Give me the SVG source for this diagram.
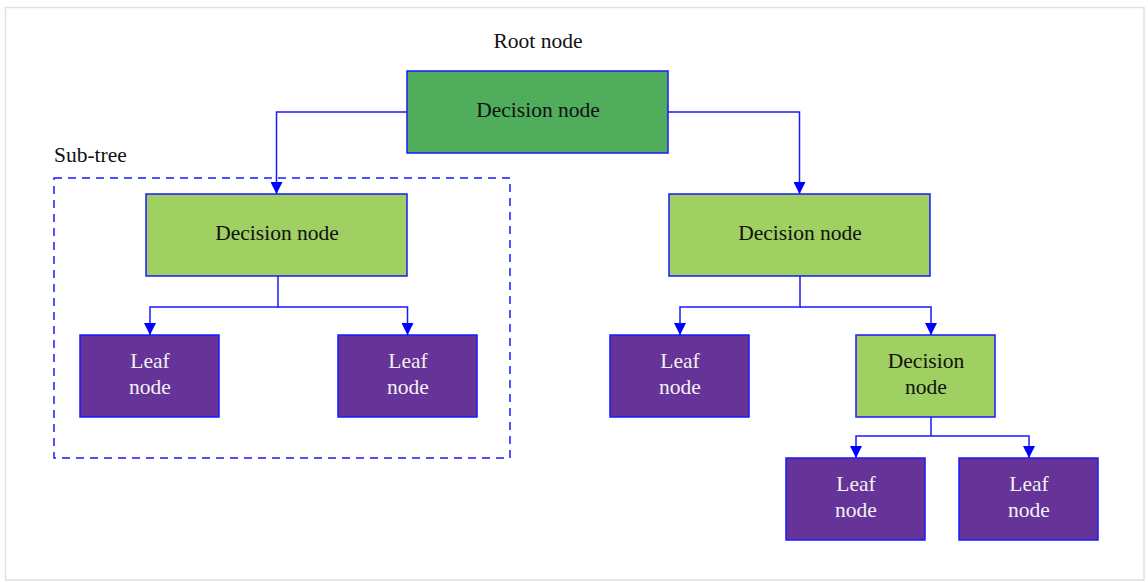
<svg xmlns="http://www.w3.org/2000/svg" width="1148" height="582" viewBox="0 0 1148 582">
<defs>
<marker id="arr" markerWidth="12" markerHeight="12" refX="12" refY="6" orient="auto" markerUnits="userSpaceOnUse">
<path d="M0,0 L12,6 L0,12 Z" fill="#0000ff"/>
</marker>
<style>
.n{stroke:#1a1aff;stroke-width:1.5}
.root{fill:#4fad5b}
.dec{fill:#a0cf62}
.leaf{fill:#663399}
.t{font-family:"Liberation Serif","DejaVu Serif",serif;font-size:21.5px;text-anchor:middle}
.dk{fill:#111}
.wt{fill:#f2f2f2}
.lbl{font-family:"Liberation Serif","DejaVu Serif",serif;font-size:21.5px;fill:#111}
.c{fill:none;stroke:#1a1aff;stroke-width:1.5}
</style>
</defs>
<rect x="0" y="0" width="1148" height="582" fill="#ffffff"/>
<rect x="5.5" y="7.5" width="1138.5" height="572.5" fill="none" stroke="#e0e0e0" stroke-width="1.5"/>
<g id="subtree">
<rect x="54" y="178" width="456" height="280" fill="none" stroke="#1a1aff" stroke-width="1.5" stroke-dasharray="8,6"/>
<text class="lbl" x="54" y="162">Sub-tree</text>
</g>
<text class="lbl" x="538" y="48" text-anchor="middle">Root node</text>
<g id="connectors">
<path class="c" d="M407,112 H276.5 V194" marker-end="url(#arr)"/>
<path class="c" d="M668,112 H799.5 V194" marker-end="url(#arr)"/>
<path class="c" d="M278,276 V307 H150 V335" marker-end="url(#arr)"/>
<path class="c" d="M278,307 H407.5 V335" marker-end="url(#arr)"/>
<path class="c" d="M800,276 V307 H680 V335" marker-end="url(#arr)"/>
<path class="c" d="M800,307 H931 V335" marker-end="url(#arr)"/>
<path class="c" d="M931,417 V436 H856 V458" marker-end="url(#arr)"/>
<path class="c" d="M931,436 H1029 V458" marker-end="url(#arr)"/>
</g>
<g id="root">
<rect class="n root" x="407" y="71" width="261" height="82"/>
<text class="t dk" x="538" y="117">Decision node</text>
</g>
<g id="dec-left">
<rect class="n dec" x="146" y="194" width="261" height="82"/>
<text class="t dk" x="277" y="240">Decision node</text>
</g>
<g id="dec-right">
<rect class="n dec" x="669" y="194" width="261" height="82"/>
<text class="t dk" x="800" y="240">Decision node</text>
</g>
<g id="leaf1">
<rect class="n leaf" x="80" y="335" width="139" height="82"/>
<text class="t wt" x="150" y="368">Leaf</text>
<text class="t wt" x="150" y="394">node</text>
</g>
<g id="leaf2">
<rect class="n leaf" x="338" y="335" width="139" height="82"/>
<text class="t wt" x="408" y="368">Leaf</text>
<text class="t wt" x="408" y="394">node</text>
</g>
<g id="leaf3">
<rect class="n leaf" x="610" y="335" width="139" height="82"/>
<text class="t wt" x="680" y="368">Leaf</text>
<text class="t wt" x="680" y="394">node</text>
</g>
<g id="dec-small">
<rect class="n dec" x="856" y="335" width="139" height="82"/>
<text class="t dk" x="926" y="368">Decision</text>
<text class="t dk" x="926" y="394">node</text>
</g>
<g id="leaf4">
<rect class="n leaf" x="786" y="458" width="139" height="82"/>
<text class="t wt" x="856" y="491">Leaf</text>
<text class="t wt" x="856" y="517">node</text>
</g>
<g id="leaf5">
<rect class="n leaf" x="959" y="458" width="139" height="82"/>
<text class="t wt" x="1029" y="491">Leaf</text>
<text class="t wt" x="1029" y="517">node</text>
</g>
</svg>
